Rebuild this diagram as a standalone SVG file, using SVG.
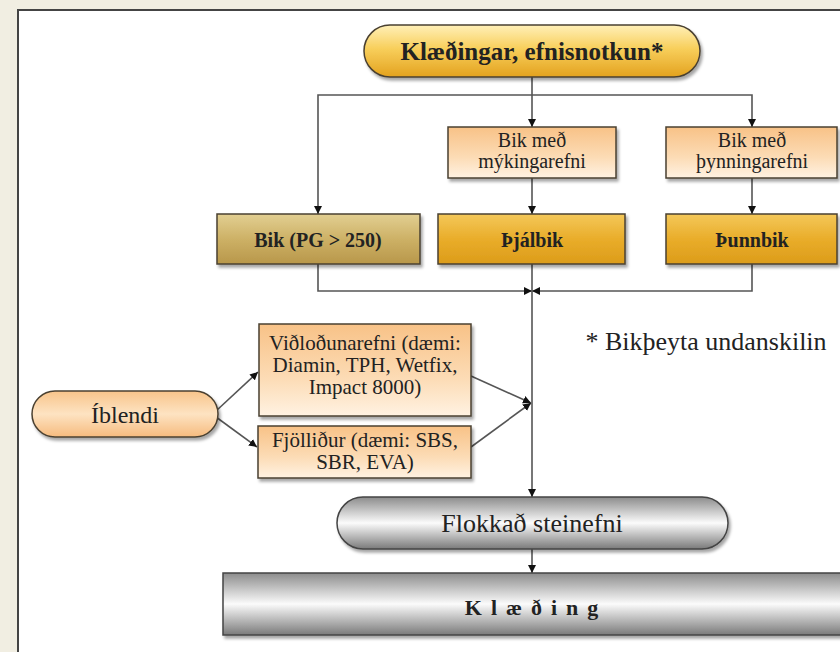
<svg xmlns="http://www.w3.org/2000/svg" width="840" height="652" viewBox="0 0 840 652">
<defs>
<linearGradient id="gGold" x1="0" y1="0" x2="0" y2="1"><stop offset="0" stop-color="#fff0b8"/><stop offset="0.45" stop-color="#f8cf5c"/><stop offset="1" stop-color="#e3a21e"/></linearGradient>
<linearGradient id="gKhaki" x1="0" y1="0" x2="0" y2="1"><stop offset="0" stop-color="#e2cf92"/><stop offset="0.5" stop-color="#cdb166"/><stop offset="1" stop-color="#b8974a"/></linearGradient>
<linearGradient id="gAmber" x1="0" y1="0" x2="0" y2="1"><stop offset="0" stop-color="#f4c85a"/><stop offset="0.5" stop-color="#e9ad2a"/><stop offset="1" stop-color="#dc9c1a"/></linearGradient>
<linearGradient id="gPeach" x1="0" y1="0" x2="0" y2="1"><stop offset="0" stop-color="#f8c287"/><stop offset="0.6" stop-color="#fcdcb6"/><stop offset="1" stop-color="#fff2e2"/></linearGradient>
<linearGradient id="gPill" x1="0" y1="0" x2="0" y2="1"><stop offset="0" stop-color="#f8c48a"/><stop offset="0.5" stop-color="#fde3c2"/><stop offset="1" stop-color="#f6bb7e"/></linearGradient>
<linearGradient id="gMetal" x1="0" y1="0" x2="0" y2="1"><stop offset="0" stop-color="#8c8c8c"/><stop offset="0.5" stop-color="#fbfbfb"/><stop offset="1" stop-color="#7a7a7a"/></linearGradient>
<filter id="sh" x="-10%" y="-20%" width="120%" height="150%"><feDropShadow dx="2" dy="3" stdDeviation="1.5" flood-color="#000" flood-opacity="0.35"/></filter>
<marker id="ar" viewBox="0 0 10 10" refX="10" refY="5" markerWidth="8" markerHeight="8" markerUnits="userSpaceOnUse" orient="auto"><path d="M0,0 L10,5 L0,10 z" fill="#111"/></marker>
</defs>
<style>
.node{stroke:#4a4030;stroke-width:1.5;filter:url(#sh)}
.gray{stroke:#444;stroke-width:1.5;filter:url(#sh)}
.t{font-family:"Liberation Serif","Times New Roman",serif;text-anchor:middle;fill:#222}
.b{font-weight:bold}
.con path{fill:none;stroke:#555;stroke-width:1.6}
</style>
<rect x="0" y="0" width="840" height="652" fill="#f1eee2"/>
<rect x="18" y="10" width="840" height="660" fill="#fff" stroke="#444" stroke-width="2"/>

<g id="connectors" class="con">
<path d="M532,77 V127" marker-end="url(#ar)"/>
<path d="M532,95 H318 V214" marker-end="url(#ar)"/>
<path d="M532,95 H752 V127" marker-end="url(#ar)"/>
<path d="M532,178 V214" marker-end="url(#ar)"/>
<path d="M752,178 V214" marker-end="url(#ar)"/>
<path d="M318,264 V291 H532" marker-end="url(#ar)"/>
<path d="M752,264 V291 H532" marker-end="url(#ar)"/>
<path d="M532,264 V497" marker-end="url(#ar)"/>
<path d="M216,411 L258,372" marker-end="url(#ar)"/>
<path d="M216,417 L257,447" marker-end="url(#ar)"/>
<path d="M471,376 L531,403" marker-end="url(#ar)"/>
<path d="M471,447 L531,403" marker-end="url(#ar)"/>
<path d="M532,549 V573" marker-end="url(#ar)"/>
</g>

<g id="n-top"><rect class="node" x="364" y="25" width="336" height="52" rx="26" fill="url(#gGold)"/><text class="t b" x="532" y="60" font-size="25">Klæðingar, efnisnotkun*</text></g>

<g id="n-myk"><rect class="node" x="448" y="127" width="168" height="51" fill="url(#gPeach)"/><text class="t" x="532" y="147" font-size="20">Bik með</text><text class="t" x="532" y="168" font-size="20">mýkingarefni</text></g>
<g id="n-thyn"><rect class="node" x="666" y="127" width="171" height="51" fill="url(#gPeach)"/><text class="t" x="752" y="147" font-size="20">Bik með</text><text class="t" x="752" y="168" font-size="20">þynningarefni</text></g>

<g id="n-bik"><rect class="node" x="217" y="214" width="203" height="50" fill="url(#gKhaki)"/><text class="t b" x="318" y="247" font-size="20">Bik (PG &gt; 250)</text></g>
<g id="n-thjal"><rect class="node" x="438" y="214" width="187" height="50" fill="url(#gAmber)"/><text class="t b" x="532" y="247" font-size="20">Þjálbik</text></g>
<g id="n-thunn"><rect class="node" x="666" y="214" width="171" height="50" fill="url(#gAmber)"/><text class="t b" x="752" y="247" font-size="20">Þunnbik</text></g>

<g id="n-note"><text class="t" x="706" y="350" font-size="26">* Bikþeyta undanskilin</text></g>

<g id="n-ibl"><rect class="node" x="32" y="391" width="186" height="46" rx="23" fill="url(#gPill)"/><text class="t" x="125" y="423" font-size="24">Íblendi</text></g>
<g id="n-vid"><rect class="node" x="259" y="324" width="212" height="92" fill="url(#gPeach)"/><text class="t" x="365" y="350" font-size="21">Viðloðunarefni (dæmi:</text><text class="t" x="365" y="372" font-size="21">Diamin, TPH, Wetfix,</text><text class="t" x="365" y="394" font-size="21">Impact 8000)</text></g>
<g id="n-fjol"><rect class="node" x="258" y="426" width="213" height="52" fill="url(#gPeach)"/><text class="t" x="365" y="447" font-size="21">Fjölliður (dæmi: SBS,</text><text class="t" x="365" y="469" font-size="21">SBR, EVA)</text></g>

<g id="n-flokk"><rect class="gray" x="337" y="497" width="391" height="52" rx="26" fill="url(#gMetal)"/><text class="t" x="532" y="532" font-size="26" fill="#333">Flokkað steinefni</text></g>
<g id="n-klaed"><rect class="gray" x="223" y="573" width="640" height="62" fill="url(#gMetal)"/><text class="t b" x="536" y="615" font-size="22" letter-spacing="9">Klæðing</text></g>
</svg>
